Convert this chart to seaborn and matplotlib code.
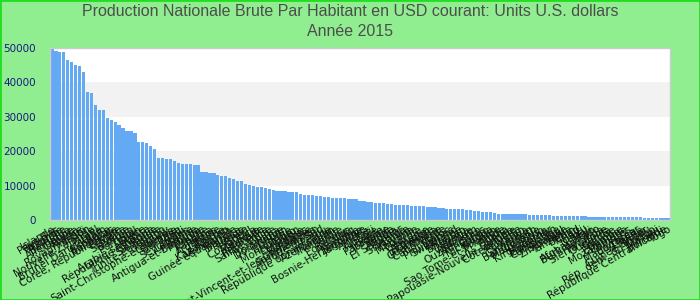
import matplotlib
matplotlib.use("Agg")
import matplotlib.pyplot as plt
import seaborn as sns
import pandas as pd
from matplotlib.patches import Rectangle

countries = [
    "Islande", "Pays-Bas", "Finlande", "Autriche", "Belgique", "Allemagne", "Canada", "France",
    "Royaume-Uni", "Japon", "Nouvelle-Zélande", "Israël", "Italie", "Brunéi Darussalam", "Espagne",
    "Bahamas", "Corée, République de", "Chypre", "Malte", "Slovénie", "Bahreïn", "Portugal", "Oman",
    "Grèce", "Arabie saoudite", "République tchèque", "Estonie", "Slovaquie", "Trinité-et-Tobago",
    "Uruguay", "Saint-Christophe-et-Niévès", "Lituanie", "Barbade", "Chili", "Seychelles", "Lettonie",
    "Hongrie", "Antigua-et-Barbuda", "Pologne", "Croatie", "Panama", "Palaos", "Argentine", "Russie",
    "Kazakhstan", "Venezuela", "Guinée équatoriale", "Maurice", "Malaisie", "Turquie", "Brésil",
    "Costa Rica", "Mexique", "Grenade", "Roumanie", "Sainte-Lucie", "Chine", "Botswana", "Dominique",
    "Gabon", "Bulgarie", "Monténégro", "Liban", "Colombie", "Maldives", "Suriname",
    "Saint-Vincent-et-les Grenadines", "Turkménistan", "Afrique du Sud", "Pérou",
    "République dominicaine", "Azerbaïdjan", "Thaïlande", "Serbie", "Équateur", "Bélarus", "Iraq",
    "Namibie", "Bosnie-Herzégovine", "Jamaïque", "Algérie", "Fidji", "Albanie", "Belize", "Paraguay",
    "Jordanie", "Tonga", "Angola", "El Salvador", "Samoa", "Sri Lanka", "Guyana", "Mongolie",
    "Géorgie", "Égypte", "Arménie", "Indonésie", "Guatemala", "Tunisie", "Cabo Verde", "Maroc",
    "Philippines", "Swaziland", "Ukraine", "Bhoutan", "Nigéria", "Bolivie", "Viet Nam", "Ouzbékistan",
    "Honduras", "Congo", "Nicaragua", "Soudan", "Sao Tomé-et-Principe", "Inde", "Ghana",
    "Papouasie-Nouvelle-Guinée", "Zambie", "Côte d'Ivoire", "Pakistan", "Kenya", "Cameroun",
    "Bangladesh", "Mauritanie", "Lesotho", "Kirghizistan", "Myanmar", "Tadjikistan", "Cambodge",
    "Sénégal", "Zimbabwe", "Tanzanie", "Bénin", "Tchad", "Haïti", "Népal", "Mali", "Afghanistan",
    "Burkina Faso", "Rwanda", "Sierra Leone", "Ouganda", "Guinée", "Éthiopie", "Gambie",
    "Mozambique", "Comores", "Érythrée", "Madagascar", "Libéria", "Niger", "Guinée-Bissau",
    "Rép. dém. du Congo", "Malawi", "Burundi", "République Centrafricaine", "Togo",
]

values = [
    49800, 49120, 48830, 48830, 46480, 45900, 45020, 44730, 42970, 37110,
    36820, 33300, 31840, 31840, 29790, 29200, 28610, 27730, 26860, 25980,
    25980, 25390, 22750, 22750, 22460, 21580, 20700, 18070, 18070, 17770,
    17770, 17190, 16700, 16410, 16410, 16410, 16120, 16120, 14080, 14080,
    13790, 13790, 13200, 12910, 12910, 12330, 12040, 11460, 11460, 10580,
    10290, 10000, 9710, 9710, 9420, 9130, 8830, 8540, 8540, 8540,
    8250, 8250, 8250, 7670, 7380, 7380, 7280, 6980, 6980, 6690,
    6690, 6400, 6400, 6400, 6400, 6100, 6100, 6100, 5520, 5520,
    5220, 5220, 4930, 4930, 4930, 4640, 4640, 4350, 4350, 4350,
    4350, 4050, 4050, 4050, 4050, 3760, 3760, 3760, 3460, 3460,
    3160, 3160, 3160, 3160, 3160, 2870, 2870, 2580, 2580, 2290,
    2290, 2290, 1990, 1700, 1700, 1700, 1700, 1700, 1700, 1700,
    1700, 1410, 1410, 1410, 1410, 1410, 1410, 1150, 1150, 1150,
    1200, 1200, 1200, 1200, 1200, 1200, 900, 900, 900, 900,
    900, 900, 900, 900, 900, 900, 900, 900, 900, 900,
    620, 620, 620, 620, 620, 620, 620, 620, 620, 620,
]

y_ticks = [0, 10000, 20000, 30000, 40000, 50000]
title_line1 = "Production Nationale Brute Par Habitant en USD courant: Units U.S. dollars"
title_line2 = "Année 2015"

n = min(len(countries), len(values))
df = pd.DataFrame({"pays": countries[:n], "valeur": values[:n]})

sns.set_theme(style="white")
plt.rcParams["font.family"] = ["DejaVu Sans"]

fig = plt.figure(figsize=(7, 3), dpi=100)
fig.patch.set_facecolor("#90EE90")
ax = fig.add_axes([50 / 700, 80 / 300, 620 / 700, 172 / 300])
ax.set_facecolor("white")

for lo in (10000, 30000):
    ax.axhspan(lo, lo + 10000, color="#f2f2f2", zorder=0, lw=0)

sns.barplot(data=df, x="pays", y="valeur", color="#63a9f3", saturation=1,
            width=0.82, linewidth=0, edgecolor="none", ax=ax, zorder=2)

ax.set_xlim(-0.5, n - 0.5)
ax.set_ylim(0, 50000)
ax.set_yticks(y_ticks)
ax.set_yticklabels([str(t) for t in y_ticks], color="#1a1a80", fontsize=7.5)
ax.tick_params(axis="y", length=0, pad=10)
ax.tick_params(axis="x", length=0, pad=3)
plt.setp(ax.get_xticklabels(), rotation=30, ha="right", rotation_mode="anchor",
         fontsize=7.5, color="#111111")
ax.set_xlabel("")
ax.set_ylabel("")
for s in ax.spines.values():
    s.set_color("#cccccc")
    s.set_linewidth(1)

fig.text(0.5, 1 - 12 / 300, title_line1, ha="center", va="center", fontsize=11.5,
         color="#4d4d4d", family=["Liberation Sans"])
fig.text(0.5, 1 - 32 / 300, title_line2, ha="center", va="center", fontsize=11.5,
         color="#4d4d4d", family=["Liberation Sans"])

fig.add_artist(Rectangle((0, 0), 1, 1, transform=fig.transFigure, fill=False,
                         edgecolor="#22dd22", lw=2, zorder=10))

fig.savefig("out.png", dpi=100, facecolor=fig.get_facecolor())
